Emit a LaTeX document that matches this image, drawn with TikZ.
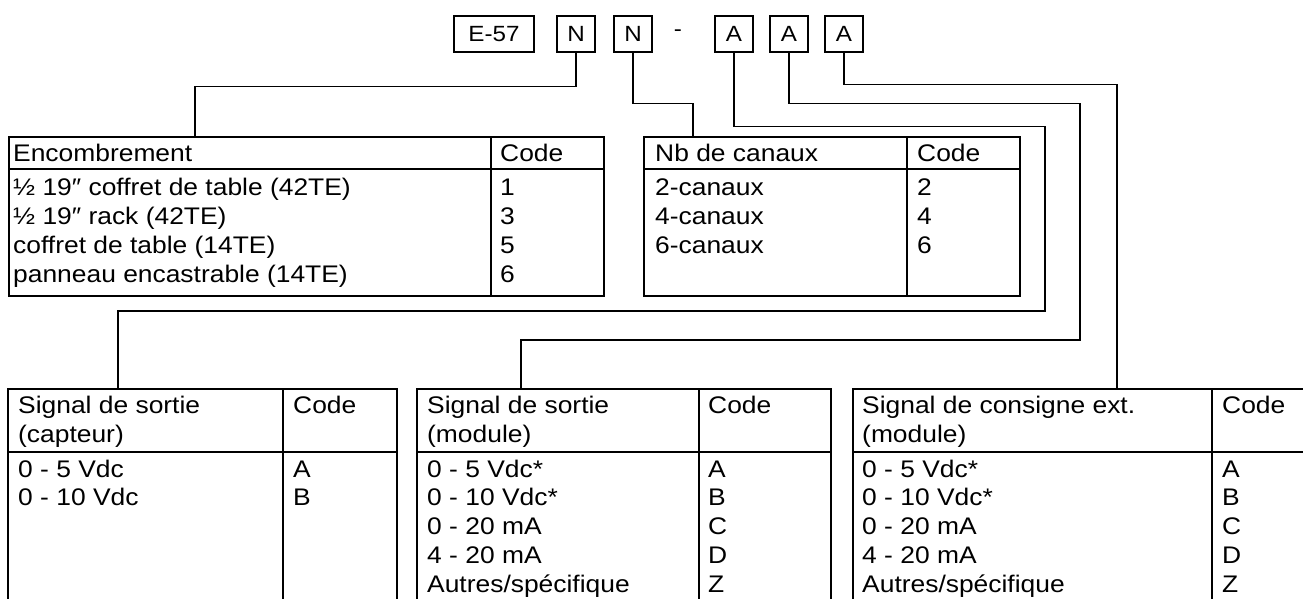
\documentclass[tikz,border=0pt]{standalone}
\usepackage{fontspec}
\setmainfont{Liberation Sans}[FakeStretch=1.1]

\tikzset{
  codebox/.style={draw,line width=1.3pt,minimum width=38pt,minimum height=36pt,inner sep=0pt,font=\fontsize{22}{22}\selectfont},
  cell/.style={anchor=base west,inner sep=0pt,font=\fontsize{24}{28}\selectfont},
  frame/.style={line width=1.8pt},
  wire/.style={line width=1.3pt}
}

\begin{document}
\begin{tikzpicture}[x=1pt,y=-1pt]
  \useasboundingbox (0,0) rectangle (1303,599);
  \clip (0,0) rectangle (1303,599);
  % order code
  \node[codebox,minimum width=80pt] (e57) at (494,34) {E-57};
  \node[codebox] (n1) at (576,34) {N};
  \node[codebox] (n2) at (633,34) {N};
  \node[inner sep=0pt,font=\fontsize{22}{22}\selectfont] (dash) at (678,33) {-};
  \node[codebox] (a1) at (734,34) {A};
  \node[codebox] (a2) at (789,34) {A};
  \node[codebox] (a3) at (844,34) {A};

  % tables
  \draw[frame] (9,137) rectangle (604,296) (9,169) -- (604,169) (491,137) -- (491,296);
  \draw[frame] (644,137) rectangle (1020,296) (644,169) -- (1020,169) (907,137) -- (907,296);
  \draw[frame] (8,389) rectangle (397,620) (8,452) -- (397,452) (283,389) -- (283,620);
  \draw[frame] (417,389) rectangle (831,620) (417,452) -- (831,452) (699,389) -- (699,620);
  \draw[frame] (853,389) rectangle (1330,620) (853,452) -- (1330,452) (1212,389) -- (1212,620);

  \coordinate (enc) at (195,137);
  \coordinate (nbc) at (693,137);
  \coordinate (cap) at (118,389);
  \coordinate (mod) at (521,389);
  \coordinate (ext) at (1117,389);

  % wires
  \draw[wire] (n1.south) -- ++(0,34) -| (enc);
  \draw[wire] (n2.south) -- ++(0,51) -| (nbc);
  \draw[wire] (a1.south) -- ++(0,74) -| (1045,311) -| (cap);
  \draw[wire] (a2.south) -- ++(0,51) -| (1080,340) -| (mod);
  \draw[wire] (a3.south) -- ++(0,32) -| (ext);

  % Encombrement
  \node[cell] (enc-h) at (13,161) {Encombrement};
  \node[cell] (enc-c) at (500,161) {Code};
  \foreach \txt/\code [count=\i] in {½ 19″ coffret de table (42TE)/1,½ 19″ rack (42TE)/3,coffret de table (14TE)/5,panneau encastrable (14TE)/6}{
    \node[cell] (enc-\i) at (13,166+29*\i) {\txt};
    \node[cell] (enc-\i c) at (500,166+29*\i) {\code};
  }

  % Nb de canaux
  \node[cell] (nb-h) at (655,161) {Nb de canaux};
  \node[cell] (nb-c) at (917,161) {Code};
  \foreach \txt/\code [count=\i] in {2-canaux/2,4-canaux/4,6-canaux/6}{
    \node[cell] (nb-\i) at (655,166+29*\i) {\txt};
    \node[cell] (nb-\i c) at (917,166+29*\i) {\code};
  }

  % capteur
  \node[cell] (cap-h) at (18,413) {Signal de sortie};
  \node[cell] (cap-h2) at (18,442) {(capteur)};
  \node[cell] (cap-c) at (293,413) {Code};
  \foreach \txt/\code [count=\i] in {0 - 5 Vdc/A,0 - 10 Vdc/B}{
    \node[cell] (cap-\i) at (18,448.5+28.7*\i) {\txt};
    \node[cell] (cap-\i c) at (293,448.5+28.7*\i) {\code};
  }

  % module
  \node[cell] (mod-h) at (427,413) {Signal de sortie};
  \node[cell] (mod-h2) at (427,442) {(module)};
  \node[cell] (mod-c) at (708,413) {Code};
  \foreach \txt/\code [count=\i] in {0 - 5 Vdc*/A,0 - 10 Vdc*/B,0 - 20 mA/C,4 - 20 mA/D,{Autres/spécifique}/Z}{
    \node[cell] (mod-\i) at (427,448.5+28.7*\i) {\txt};
    \node[cell] (mod-\i c) at (708,448.5+28.7*\i) {\code};
  }

  % consigne
  \node[cell] (ext-h) at (862,413) {Signal de consigne ext.};
  \node[cell] (ext-h2) at (862,442) {(module)};
  \node[cell] (ext-c) at (1222,413) {Code};
  \foreach \txt/\code [count=\i] in {0 - 5 Vdc*/A,0 - 10 Vdc*/B,0 - 20 mA/C,4 - 20 mA/D,{Autres/spécifique}/Z}{
    \node[cell] (ext-\i) at (862,448.5+28.7*\i) {\txt};
    \node[cell] (ext-\i c) at (1222,448.5+28.7*\i) {\code};
  }
\end{tikzpicture}
\end{document}
